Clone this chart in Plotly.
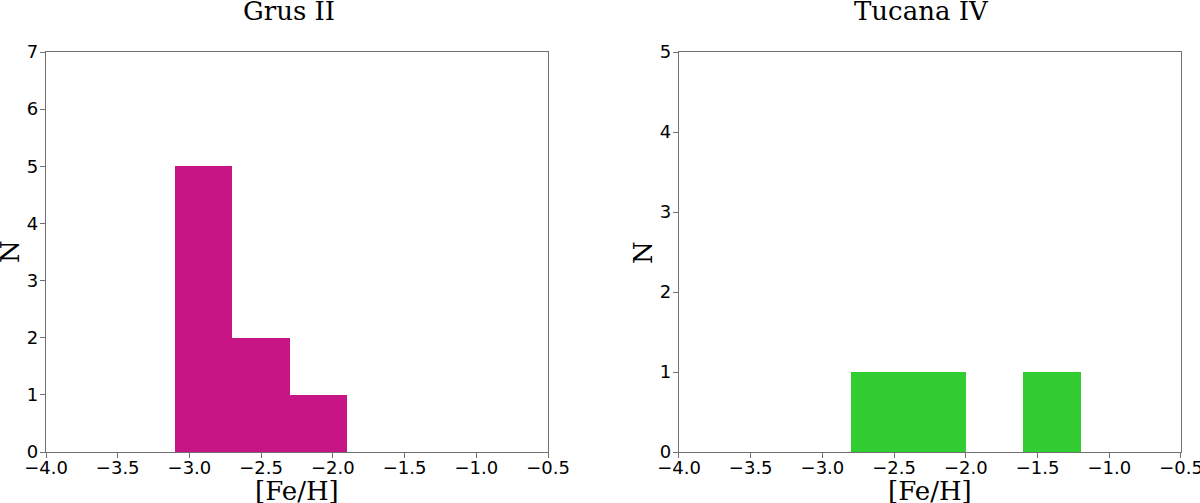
import numpy as np
import plotly.graph_objects as go
from plotly.subplots import make_subplots

# histogram bin edges and counts
grus_edges = [-3.1, -2.7, -2.3, -1.9]
grus_counts = [5, 2, 1]

tuc_edges = [-2.8, -2.4, -2.0, -1.6, -1.2]
tuc_counts = [1, 1, 0, 1]

x_ticks = [-4.0, -3.5, -3.0, -2.5, -2.0, -1.5, -1.0, -0.5]


def bar_trace(edges, counts, color):
    edges = np.array(edges)
    centers = (edges[:-1] + edges[1:]) / 2
    widths = np.diff(edges)
    return go.Bar(x=centers, y=counts, width=widths, marker=dict(color=color, line=dict(width=0)),
                  showlegend=False)


fig = make_subplots(rows=1, cols=2, horizontal_spacing=0.1154)
fig.add_trace(bar_trace(grus_edges, grus_counts, '#C71585'), row=1, col=1)
fig.add_trace(bar_trace(tuc_edges, tuc_counts, '#32CD32'), row=1, col=2)

axis_style = dict(showline=True, linecolor='#707070', linewidth=1.3, mirror=True, automargin=False,
                  ticks='outside', ticklen=5, tickcolor='#707070', showgrid=False, zeroline=False,
                  ticklabeloverflow='allow',
                  tickfont=dict(family='DejaVu Sans', size=18, color='black'))

for c in (1, 2):
    fig.update_xaxes(range=[-4, -0.5], tickvals=x_ticks, tickformat='.1f', ticklabelstandoff=-6,
                     row=1, col=c, **axis_style)
fig.update_yaxes(range=[0, 7], dtick=1, ticklabelstandoff=-2, row=1, col=1, **axis_style)
fig.update_yaxes(range=[0, 5], dtick=1, ticklabelstandoff=-2, row=1, col=2, **axis_style)

serif = dict(family='DejaVu Serif', size=26, color='black')
label = dict(family='DejaVu Serif', size=26, color='black')
annots = []
for xc, title in ((0.2211, 'Grus II'), (0.7788, 'Tucana IV')):
    annots.append(dict(text=title, x=xc, y=1, xref='paper', yref='paper', xanchor='center',
                       yanchor='bottom', xshift=-8, yshift=24, showarrow=False, font=serif))
    annots.append(dict(text='[Fe/H]', x=xc, y=0, xref='paper', yref='paper', xanchor='center',
                       yanchor='middle', yshift=-39, showarrow=False, font=label))
for xl in (0, 0.5577):
    annots.append(dict(text='N', x=xl, y=0.5, xref='paper', yref='paper', xanchor='center',
                       yanchor='middle', xshift=-36, textangle=-90, showarrow=False, font=label))

fig.update_layout(
    xaxis=dict(domain=[0, 0.4423]),
    xaxis2=dict(domain=[0.5577, 1]),
    width=1200, height=503,
    margin=dict(l=46, r=19, t=52, b=51),
    plot_bgcolor='white', paper_bgcolor='white',
    bargap=0,
    annotations=annots,
)

# drop the default body margin so the figure sits at the page corner
fig.write_html("out.html", config={'displayModeBar': False},
               post_script="document.body.style.margin='0';")
